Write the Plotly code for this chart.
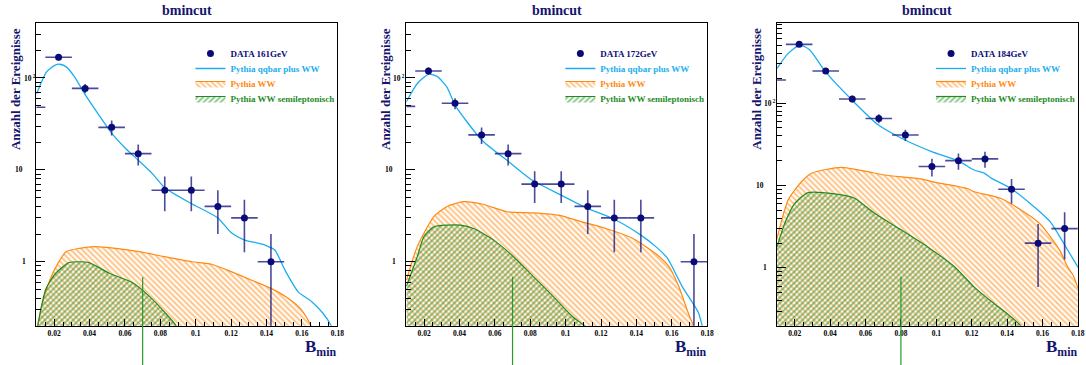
import math
import plotly.graph_objects as go

# ---------------- data ----------------
bin_width = 0.015
energies = ["161GeV", "172GeV", "184GeV"]
cut_values = [0.07, 0.07, 0.08]

data161_x = [0.0075, 0.0225, 0.0375, 0.0525, 0.0675, 0.0825, 0.0975, 0.1125, 0.1275, 0.1425]
data161_y = [48, 168, 77, 29, 15, 6, 6, 4, 3, 1]
data172_x = [0.0075, 0.0225, 0.0375, 0.0525, 0.0675, 0.0825, 0.0975, 0.1125, 0.1275, 0.1425, 0.1725]
data172_y = [49, 119, 53, 24, 15, 7, 7, 4, 3, 3, 1]
data184_x = [0.0075, 0.0225, 0.0375, 0.0525, 0.0675, 0.0825, 0.0975, 0.1125, 0.1275, 0.1425, 0.1575, 0.1725]
data184_y = [190, 514, 244, 112, 65, 41, 17, 20, 21, 9, 2, 3]

qq161_x = [0.0100, 0.0156, 0.0203, 0.0231, 0.0268, 0.0315, 0.0377, 0.0455, 0.0527, 0.0605, 0.0676, 0.0755,
           0.0825, 0.0975, 0.1125, 0.1203, 0.1276, 0.1335, 0.1391, 0.1447, 0.1504, 0.1579, 0.1654, 0.1719,
           0.1766, 0.1790]
qq161_y = [66.6, 116, 137, 141, 132, 103, 65, 39, 24.8, 17, 12.7, 9.1,
           6.4, 4.3, 3.0, 2.05, 1.72, 1.62, 1.52, 1.34, 0.81, 0.47, 0.37, 0.275,
           0.2, 0.15]
ww161_x = [0.0100, 0.0128, 0.0175, 0.0221, 0.0268, 0.0343, 0.0427, 0.0549, 0.0680, 0.0830, 0.0980, 0.1090,
           0.1200, 0.1316, 0.1428, 0.1522, 0.1597, 0.1653, 0.1680]
ww161_y = [0.17, 0.32, 0.63, 0.96, 1.29, 1.40, 1.46, 1.40, 1.29, 1.13, 1.00, 0.94,
           0.78, 0.63, 0.51, 0.40, 0.30, 0.20, 0.15]
sl161_x = [0.0100, 0.0152, 0.0209, 0.0284, 0.0341, 0.0398, 0.0511, 0.0644, 0.0738, 0.0833, 0.0890, 0.0910]
sl161_y = [0.17, 0.50, 0.75, 0.98, 1.00, 0.98, 0.75, 0.59, 0.42, 0.27, 0.20, 0.15]

qq172_x = [0.0100, 0.0162, 0.0227, 0.0274, 0.0330, 0.0377, 0.0527, 0.0677, 0.0807, 0.0975, 0.1125, 0.1275,
           0.1425, 0.1508, 0.1574, 0.1658, 0.1750, 0.1772, 0.1790]
qq172_y = [55, 87, 110, 104, 79, 50, 21, 12.3, 7.8, 5.3, 3.8, 2.9,
           1.95, 1.47, 1.10, 0.54, 0.28, 0.2, 0.15]
ww172_x = [0.0100, 0.0162, 0.0255, 0.0330, 0.0424, 0.0536, 0.0667, 0.0817, 0.0966, 0.1097, 0.1228, 0.1378,
           0.1508, 0.1583, 0.1639, 0.1695, 0.1723, 0.1740]
ww172_y = [0.63, 1.47, 3.1, 4.0, 4.5, 4.2, 3.5, 3.4, 3.2, 2.7, 2.3, 1.8,
           1.23, 0.89, 0.54, 0.27, 0.2, 0.15]
sl172_x = [0.0100, 0.0162, 0.0199, 0.0255, 0.0330, 0.0405, 0.0480, 0.0592, 0.0704, 0.0817, 0.0929, 0.1041,
           0.1107, 0.1130]
sl172_y = [0.54, 1.14, 1.88, 2.4, 2.5, 2.5, 2.3, 1.73, 1.14, 0.69, 0.42, 0.25,
           0.2, 0.15]

qq184_x = [0.0100, 0.0163, 0.0229, 0.0285, 0.0373, 0.0523, 0.0673, 0.0823, 0.0973, 0.1123, 0.1213, 0.1273,
           0.1313, 0.1425, 0.1532, 0.1645, 0.1725, 0.1804]
qq184_y = [263, 400, 505, 440, 240, 109, 54, 35.6, 25.8, 20, 15.4, 14,
           12.2, 9.1, 6.0, 3.6, 1.9, 0.99]
ww184_x = [0.0100, 0.0163, 0.0238, 0.0295, 0.0463, 0.0613, 0.0707, 0.0913, 0.0988, 0.1175, 0.1213, 0.1363,
           0.1513, 0.1588, 0.1650, 0.1700, 0.1740, 0.1775, 0.1804]
ww184_y = [2.3, 6.7, 11.1, 14.1, 16.6, 14.7, 13.4, 12.0, 11.0, 9.2, 8.4, 7.0,
           4.5, 3.4, 2.3, 1.6, 1.05, 0.8, 0.54]
sl184_x = [0.0100, 0.0144, 0.0201, 0.0276, 0.0426, 0.0538, 0.0651, 0.0801, 0.0951, 0.1101, 0.1213, 0.1326,
           0.1400, 0.1476, 0.1500]
sl184_y = [1.8, 3.5, 6.1, 8.2, 7.9, 7.0, 4.6, 2.9, 1.8, 1.04, 0.59, 0.37,
           0.28, 0.2, 0.15]

y_tick_vals = [1, 10, 100]
y_tick_text = ["1", "10", "10<sup> 2</sup>"]

panels = [
    (data161_x, data161_y, qq161_x, qq161_y, ww161_x, ww161_y, sl161_x, sl161_y),
    (data172_x, data172_y, qq172_x, qq172_y, ww172_x, ww172_y, sl172_x, sl172_y),
    (data184_x, data184_y, qq184_x, qq184_y, ww184_x, ww184_y, sl184_x, sl184_y),
]

# ---------------- style / layout ----------------
W, H = 1086, 365
SERIF = "Liberation Serif"
NAVY = "#15156e"
DATA_C = "#0b0b78"
ERR_C = "rgba(30,30,130,0.8)"
BLUE = "#1aaef0"
ORANGE = "#ff8a12"
GREEN = "#1f8c1f"

plot_left = [36.7, 409.0, 782.1]
plot_right = [339.5, 711.8, 1084.9]
plot_top, plot_bot = 23.0, 325.7
y_ranges = [[-0.696, 2.598], [-0.696, 2.598], [-0.70, 2.97]]
x_range = [0.01, 0.18]
minor_y = [m * 10 ** e for e in range(-1, 3) for m in range(2, 10)]
legend_row_px = [53.0, 68.0, 83.0, 98.0]
# (offset from axis line in px, anchor) of the y tick labels
ytick_pos = [(8.5, "right"), (11.5, "right"), (15.0, "left")]

fig = go.Figure()
layout = dict(
    width=W, height=H, autosize=False, showlegend=True,
    margin=dict(l=0, r=0, t=0, b=0, pad=0),
    paper_bgcolor="white", plot_bgcolor="white",
    font=dict(family=SERIF, color=NAVY),
    annotations=[], shapes=[],
)


def lab(text, color):
    return f"<b><span style='color:{color}'>{text}</span></b>"


leg_count = 0


def new_legend(i, row):
    global leg_count
    leg_count += 1
    name = "legend" if leg_count == 1 else f"legend{leg_count}"
    layout[name] = dict(
        visible=True,
        x=(plot_left[i] + 155) / W, y=1 - (legend_row_px[row] - 14) / H,
        xanchor="left", yanchor="top",
        bgcolor="rgba(0,0,0,0)", borderwidth=0,
        font=dict(family=SERIF, size=9, color=NAVY),
        itemwidth=30,
    )
    return name


for i, (dx, dy, qx, qy, wx, wy, sx, sy) in enumerate(panels):
    n = i + 1
    xref = "x" if n == 1 else f"x{n}"
    yref = "y" if n == 1 else f"y{n}"

    fig.add_trace(go.Scatter(
        x=wx, y=wy, mode="lines", line=dict(color=ORANGE, width=1.2, shape="spline", smoothing=0.6),
        fill="tozeroy", fillcolor="rgba(0,0,0,0)",
        fillpattern=dict(shape="\\", fgcolor=ORANGE, bgcolor="rgba(0,0,0,0)", size=4, solidity=0.5),
        name=lab("Pythia WW", ORANGE), showlegend=True,
        xaxis=xref, yaxis=yref, legend=new_legend(i, 2)))
    fig.add_trace(go.Scatter(
        x=sx, y=sy, mode="lines", line=dict(color=GREEN, width=1.2, shape="spline", smoothing=0.6),
        fill="tozeroy", fillcolor="rgba(0,0,0,0)",
        fillpattern=dict(shape="/", fgcolor=GREEN, bgcolor="rgba(0,0,0,0)", size=4, solidity=0.5),
        name=lab("Pythia WW semileptonisch", GREEN), showlegend=True,
        xaxis=xref, yaxis=yref, legend=new_legend(i, 3)))
    fig.add_trace(go.Scatter(
        x=qx, y=qy, mode="lines", line=dict(color=BLUE, width=1.3, shape="spline", smoothing=0.6),
        name=lab("Pythia qqbar plus WW", BLUE), showlegend=True,
        xaxis=xref, yaxis=yref, legend=new_legend(i, 1)))
    fig.add_trace(go.Scatter(
        x=dx, y=dy, mode="markers",
        marker=dict(color=DATA_C, size=7, symbol="circle"),
        error_y=dict(type="data", array=[math.sqrt(v) for v in dy], color=ERR_C, thickness=1.6, width=0),
        error_x=dict(type="data", array=[bin_width / 2] * len(dx), color=ERR_C, thickness=1.6, width=0),
        name=lab(f"DATA {energies[i]}", DATA_C), showlegend=True,
        xaxis=xref, yaxis=yref, legend=new_legend(i, 0)))

    xdom = [plot_left[i] / W, plot_right[i] / W]
    ydom = [1 - plot_bot / H, 1 - plot_top / H]
    tickfont = dict(family=SERIF, size=7.5, color="black", weight="bold")
    layout["xaxis" if n == 1 else f"xaxis{n}"] = dict(
        domain=xdom, range=x_range, anchor=yref,
        showline=True, linecolor="black", linewidth=1, mirror=True,
        ticks="inside", ticklen=7, tickcolor="black", tickwidth=1,
        tick0=0, dtick=0.02, tickfont=tickfont, ticklabeloverflow="allow",
        showgrid=False, zeroline=False,
        minor=dict(ticks="inside", ticklen=4, dtick=0.005, tick0=0, tickcolor="black", showgrid=False),
    )
    layout["yaxis" if n == 1 else f"yaxis{n}"] = dict(
        domain=ydom, type="log", range=y_ranges[i], anchor=xref,
        showline=True, linecolor="black", linewidth=1, mirror=True,
        ticks="inside", ticklen=9, tickcolor="black", tickwidth=1,
        tickmode="array", tickvals=y_tick_vals, showticklabels=False,
        showgrid=False, zeroline=False,
        minor=dict(ticks="inside", ticklen=5, tickmode="array", tickvals=minor_y, tickcolor="black", showgrid=False),
    )
    for v, t, (off, anc) in zip(y_tick_vals, y_tick_text, ytick_pos):
        layout["annotations"].append(dict(
            text=f"<b>{t}</b>", x=(plot_left[i] - off) / W, y=math.log10(v),
            xref="paper", yref=yref, xanchor=anc, yanchor="middle",
            showarrow=False, font=dict(family=SERIF, size=7.5, color="black")))
    cx = (plot_left[i] + plot_right[i]) / 2 / W
    layout["annotations"].append(dict(
        text="<b>bmincut</b>", x=cx, y=1 - 10 / H, xref="paper", yref="paper",
        xanchor="center", yanchor="middle", showarrow=False,
        font=dict(family=SERIF, size=14, color=NAVY)))
    layout["annotations"].append(dict(
        text="<b>Anzahl der Ereignisse</b>", x=(plot_left[i] - 21.5) / W, y=1 - 89 / H,
        xref="paper", yref="paper", xanchor="center", yanchor="middle",
        textangle=-90, showarrow=False,
        font=dict(family=SERIF, size=13, color=NAVY)))
    layout["annotations"].append(dict(
        text="<b>B<sub>min</sub></b>", x=(plot_right[i] + 2) / W, y=1 - 348 / H,
        xref="paper", yref="paper", xanchor="right", yanchor="middle",
        showarrow=False,
        font=dict(family=SERIF, size=17, color=NAVY)))
    layout["shapes"].append(dict(
        type="line", xref=xref, yref="paper", x0=cut_values[i], x1=cut_values[i],
        y0=0, y1=1 - 277 / H, line=dict(color="#2a9a2a", width=1.2), layer="above"))

fig.update_layout(**layout)
fig.write_html("out.html")
